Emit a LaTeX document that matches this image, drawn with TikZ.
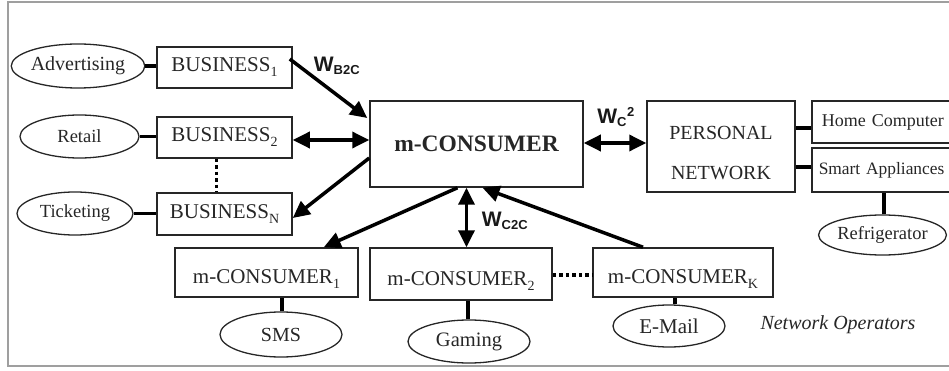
\documentclass[tikz,border=0pt]{standalone}
\usepackage{fontspec}
\setmainfont{Liberation Serif}
\newfontfamily\wfont{Liberation Sans}
\usetikzlibrary{arrows.meta,shapes.geometric,calc}
\newcommand{\fsz}[1]{\fontsize{#1}{#1}\selectfont}
\newcommand{\lowsub}[1]{\raisebox{-5pt}{\fsz{14}#1}}
\tikzset{
  box/.style={draw=black!85, line width=1.5pt, rectangle, inner sep=0pt,
    text=black!85},
  oval/.style={draw=black!85, line width=1.3pt, ellipse, inner sep=0pt,
    text=black!85, font=\fsz{19}},
  link/.style={line width=3.5pt, black},
  flow/.style={line width=3.5pt, black, -{Triangle[length=17pt,width=16pt]}},
  flow2/.style={line width=3.5pt, black,
    {Triangle[length=17pt,width=16pt]}-{Triangle[length=17pt,width=16pt]}},
  dots/.style={line width=3.5pt, black, dash pattern=on 3.5pt off 3pt},
  wlab/.style={font=\wfont\bfseries\fsz{21}, text=black!90, inner sep=0pt},
  lowtext/.style={text height=25pt, text depth=3pt},
}
\begin{document}
\begin{tikzpicture}[x=1pt,y=-1pt]
\useasboundingbox (0,0) rectangle (949,371);
% outer frame
\draw[gray!75, line width=2pt] (8,2) rectangle (980,366);

% business side
\node[oval, minimum width=121pt, minimum height=44pt, font=\fsz{20}] (adv) at (78,66) {Advertising};
\node[box, minimum width=135pt, minimum height=41pt, font=\fsz{21}] (b1) at (224.5,67.5) {BUSINESS\lowsub{1}};
\node[oval, minimum width=119pt, minimum height=43pt, font=\fsz{18.5}] (ret) at (79.5,136.5) {Retail};
\node[box, minimum width=135pt, minimum height=41pt, font=\fsz{21}] (b2) at (224.5,137.5) {BUSINESS\lowsub{2}};
\node[oval, minimum width=116pt, minimum height=43pt, font=\fsz{18.5}] (tic) at (75,213.5) {Ticketing};
\node[box, minimum width=135pt, minimum height=42pt, font=\fsz{21}] (bn) at (224.5,214) {BUSINESS\lowsub{N}};

% central consumer
\node[box, minimum width=213pt, minimum height=86pt, font=\bfseries\fsz{23.5}] (cons) at (476.5,144) {m-CONSUMER};

% personal network
\node[box, minimum width=148pt, minimum height=91pt,
  label={[name=pnt, yshift=-7pt, font=\fsz{20}, align=center, text=black!85]center:PERSONAL\\[20pt]NETWORK}] (pn) at (721,146.5) {};
\node[box, anchor=west, minimum height=42pt, text width=140pt, align=left,
  inner xsep=10pt, font=\fsz{18}] (hc) at (811,122) {Home Computer};
\node[box, anchor=west, minimum height=44pt, text width=140pt, align=left,
  inner xsep=7pt, font=\fsz{17.4}] (sa) at (811,170) {Smart Appliances};
\node[oval, minimum width=121pt, minimum height=40pt, font=\fsz{18.5}] (fri) at (882.5,235) {Refrigerator};

% peer consumers
\node[box, lowtext, minimum width=183pt, minimum height=49pt, font=\fsz{21}] (mc1) at (266.5,272.5) {m-CONSUMER\lowsub{1}};
\node[box, lowtext, minimum width=182pt, minimum height=52pt, font=\fsz{21}] (mc2) at (461,274) {m-CONSUMER\lowsub{2}};
\node[box, lowtext, minimum width=180pt, minimum height=49pt, font=\fsz{21}] (mck) at (683,272.5) {m-CONSUMER\lowsub{K}};
\node[oval, minimum width=122pt, minimum height=45pt, font=\fsz{20}] (sms) at (281,334.5) {SMS};
\node[oval, minimum width=122pt, minimum height=43pt, font=\fsz{20.5}] (gam) at (469,341.5) {Gaming};
\node[oval, minimum width=112pt, minimum height=42pt, font=\fsz{21}] (mail) at (669,326) {E-Mail};
\node[font=\itshape\fsz{20}, text=black!85, inner sep=0pt] (netop) at (838,325) {Network Operators};

% helper points on the box sides
\coordinate (pnhc) at ($(pn.east)+(0,-18.5)$);
\coordinate (pnsa) at ($(pn.east)+(0,20.5)$);
\coordinate (frtop) at ($(fri.north)+(1.5,0)$);
\coordinate (smstop) at ($(sms.north)+(1,0)$);
\coordinate (gamtop) at ($(gam.north)+(-1,0)$);
\coordinate (mailtop) at ($(mail.north)+(6,0)$);
\coordinate (mc2r) at ($(mc2.east)+(0,1)$);
\coordinate (b2r) at ($(b2.east)+(0,2.5)$);
\coordinate (consr) at ($(cons.east)+(0,-1)$);

% service links
\draw[link] (adv.east) -- (adv.east -| b1.west);
\draw[link] (ret.east) -- (ret.east -| b2.west);
\draw[link] (tic.east) -- (tic.east -| bn.west);
\draw[dots] ($(b2.south)+(-8,0)$) -- ($(bn.north)+(-8,0)$);
\draw[link] (pnhc) -- (pnhc -| hc.west);
\draw[link] (pnsa) -- (pnsa -| sa.west);
\draw[link] (frtop) -- (frtop |- sa.south);
\draw[link] (smstop) -- (smstop |- mc1.south);
\draw[link] (gamtop) -- (gamtop |- mc2.south);
\draw[link] (mailtop) -- (mailtop |- mck.south);
\draw[dots] (mc2r) -- (mc2r -| mck.west);

% flows
\draw[flow] ($(b1.east)+(-3,-8.5)$) -- ($(cons.west)+(-2,-26)$);
\draw[flow2] (b2r) -- (b2r -| cons.west);
\draw[flow] ($(cons.west)+(0,14)$) -- ($(bn.east)+(0,4)$);
\draw[flow] ($(cons.south)+(-19,0)$) -- ($(mc1.north east)+(-35,0)$);
\draw[flow2] ($(cons.south)+(-10,0)$) -- ($(mc2.north)+(5.5,0)$);
\draw[flow] ($(mck.north)+(-40,0)$) -- ($(cons.south)+(6,0)$);
\draw[flow2] (consr) -- (consr -| pn.west);

% flow labels
\node[wlab] (wb2c) at (337,66) {W\textsubscript{\fsz{13}B2C}};
\node[wlab] (wc2c) at (505,221) {W\textsubscript{\fsz{13}C2C}};
\node[wlab] (wc) at (616,117) {W\textsubscript{\fsz{13}C}\textsuperscript{\fsz{13}2}};
\end{tikzpicture}
\end{document}
